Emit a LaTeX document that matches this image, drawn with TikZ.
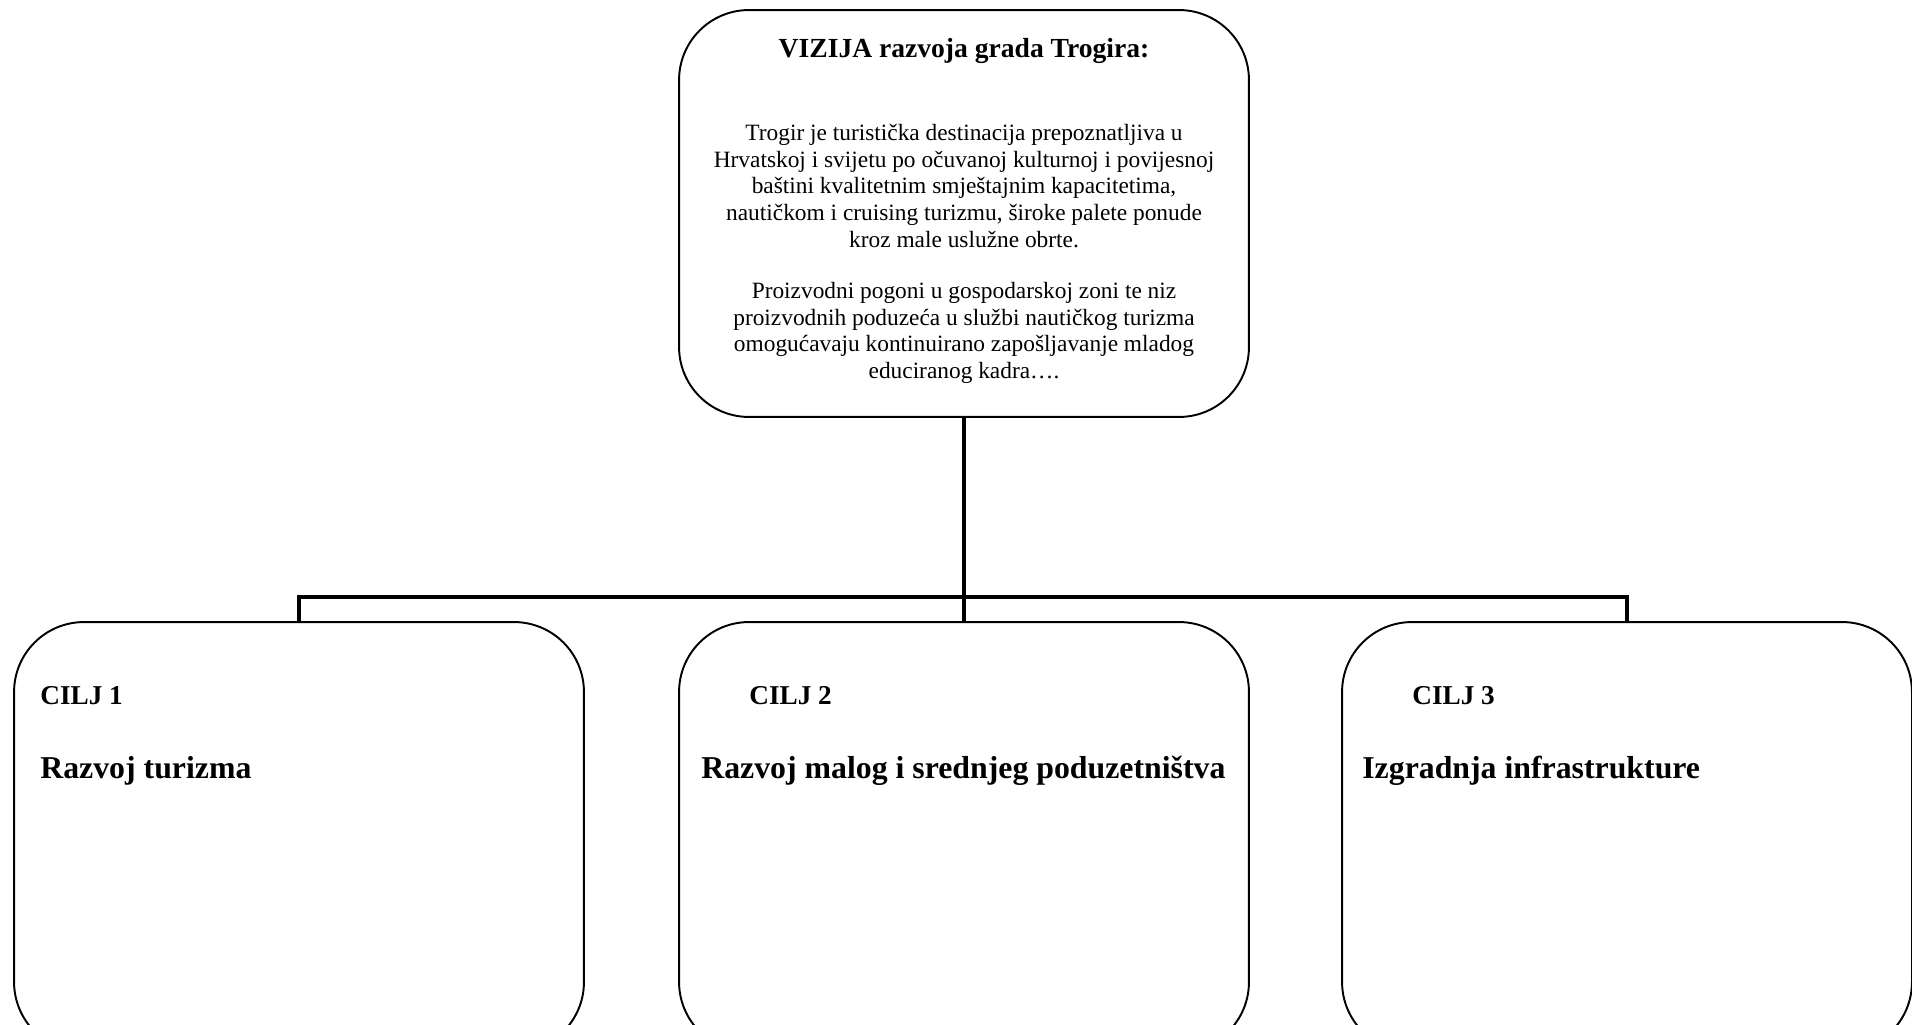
\documentclass[tikz,border=0pt]{standalone}
\usepackage{fontspec}
\setmainfont{Liberation Serif}
\tikzset{
  goalbox/.style={draw, line width=1.1pt, rounded corners=1.4cm, minimum width=11.4cm, inner sep=0pt},
  link/.style={line width=2.8pt},
  titletext/.style={font=\fontsize{15.7}{18}\selectfont\bfseries, inner sep=0pt},
  bodytext/.style={align=center, font=\fontsize{13.3}{15.15}\selectfont, inner sep=0pt},
  ciljtext/.style={anchor=west, font=\fontsize{15.5}{18}\selectfont\bfseries, inner sep=0pt},
  nazivtext/.style={anchor=west, font=\fontsize{18.1}{22}\selectfont\bfseries, inner sep=0pt},
}

\begin{document}
\begin{tikzpicture}[x=0.02cm, y=-0.02cm]
\useasboundingbox (0,0) rectangle (1912,1024);
\clip (0,0) rectangle (1912,1024);
\node[goalbox, minimum height=8.14cm] (vizija) at (964,213.5) {};
\node[goalbox, minimum height=8.6cm] (cilj1) at (299,837) {};
\node[goalbox, minimum height=8.6cm] (cilj2) at (964,837) {};
\node[goalbox, minimum height=8.6cm] (cilj3) at (1627,837) {};
\coordinate (sabirnica) at (964,597);
\node[titletext] (naslov) at (964,51) {VIZIJA razvoja grada Trogira:};
\node[bodytext] (opis1) at (964,186) {Trogir je turistička destinacija prepoznatljiva u\\
Hrvatskoj i svijetu po očuvanoj kulturnoj i povijesnoj\\
baštini kvalitetnim smještajnim kapacitetima,\\
nautičkom i cruising turizmu, široke palete ponude\\
kroz male uslužne obrte.};
\node[bodytext] (opis2) at (964,333) {Proizvodni pogoni u gospodarskoj zoni te niz\\
proizvodnih poduzeća u službi nautičkog turizma\\
omogućavaju kontinuirano zapošljavanje mladog\\
educiranog kadra\dots.};
\node[ciljtext] (oznaka1) at (40,696) {CILJ 1};
\node[nazivtext] (naziv1) at (40,771) {Razvoj turizma};
\node[ciljtext] (oznaka2) at (749,696) {CILJ 2};
\node[nazivtext] (naziv2) at (701,771) {Razvoj malog i srednjeg poduzetništva};
\node[ciljtext] (oznaka3) at (1412,696) {CILJ 3};
\node[nazivtext] (naziv3) at (1362,771) {Izgradnja infrastrukture};
\draw[link] (vizija.south) -- (sabirnica);
\draw[link] (cilj1.north) |- (sabirnica) -| (cilj3.north);
\draw[link] (sabirnica) -- (cilj2.north);
\end{tikzpicture}
\end{document}
